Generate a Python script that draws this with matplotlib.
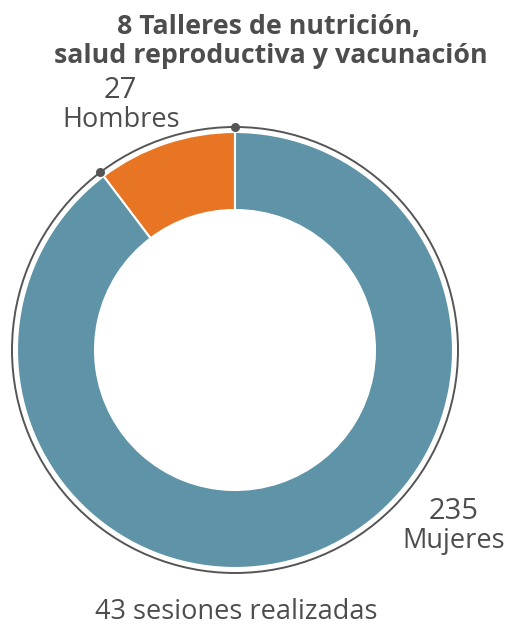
import matplotlib.pyplot as plt
from matplotlib.patches import Circle
import numpy as np

# Data
labels = ['Hombres', 'Mujeres']
values = [27, 235]
colors = ['#e87524', '#5f93a8']
title_lines = ['8 Talleres de nutrición,', 'salud reproductiva y vacunación']
footer = '43 sesiones realizadas'

plt.rcParams['font.family'] = ['Open Sans', 'DejaVu Sans']
txt = '#4d4d4d'

W, H = 509, 627
fig = plt.figure(figsize=(W / 100, H / 100), dpi=100)
ax = fig.add_axes([0, 0, 1, 1])

cx, cy = 235, H - 350
r_out = 218
ax.pie(values, colors=colors, startangle=90, counterclock=True,
       radius=r_out, center=(cx, cy), frame=True,
       wedgeprops=dict(width=78, edgecolor='white', linewidth=1.5))
ax.set_xlim(0, W)
ax.set_ylim(0, H)
ax.set_aspect('equal')
ax.axis('off')

# outer thin ring with boundary dots
r_ring = 223
ax.add_patch(Circle((cx, cy), r_ring, fill=False, edgecolor='#555555', lw=1.4))
ang = 90
for a in (ang, ang + 360 * values[0] / sum(values)):
    t = np.radians(a)
    ax.plot(cx + r_ring * np.cos(t), cy + r_ring * np.sin(t), 'o',
            color='#555555', ms=5.5)

ax.text(268, H - 34, title_lines[0], ha='center', va='baseline', fontsize=19.3,
        fontweight='bold', color=txt)
ax.text(271, H - 63, title_lines[1], ha='center', va='baseline', fontsize=19.3,
        fontweight='bold', color=txt)
ax.text(120, H - 98, str(values[0]), ha='center', va='baseline', fontsize=21, color=txt)
ax.text(121, H - 127, labels[0], ha='center', va='baseline', fontsize=19.5, color=txt)
ax.text(454, H - 519, str(values[1]), ha='center', va='baseline', fontsize=21, color=txt)
ax.text(454, H - 548, labels[1], ha='center', va='baseline', fontsize=19.5, color=txt)
ax.text(236, H - 619, footer, ha='center', va='baseline', fontsize=19.5, color=txt)

fig.savefig('out.png', dpi=100)
